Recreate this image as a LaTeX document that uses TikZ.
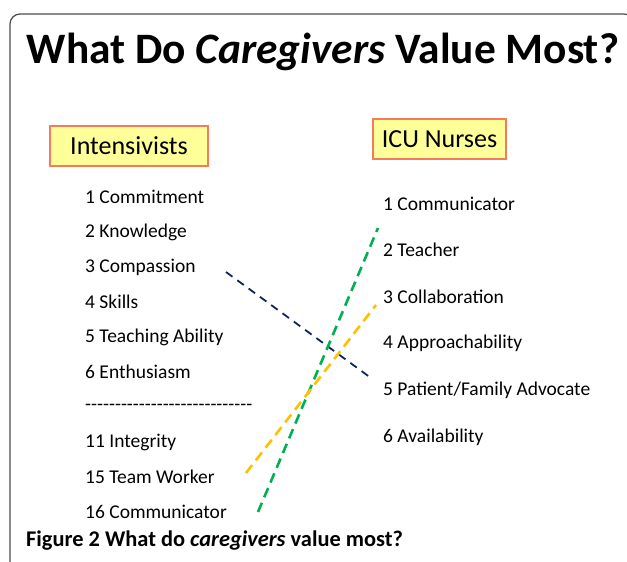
\documentclass[tikz,border=0pt]{standalone}
\usepackage{fontspec}
\setmainfont{Carlito}
\usetikzlibrary{positioning}
\definecolor{boxfill}{HTML}{FFFF99}
\definecolor{boxedge}{HTML}{F47C5C}
\definecolor{navyline}{HTML}{0F2463}
\definecolor{greenline}{HTML}{00B050}
\definecolor{orangeline}{HTML}{FFC000}
\def\dashrow{-{}-{}-{}-{}-{}-{}-{}-{}-{}-{}-{}-{}-{}-{}-{}-{}-{}-{}-{}-{}-{}-{}-{}-{}-{}-{}-{}-}
\begin{document}
\begin{tikzpicture}[x=1pt,y=-1pt,
  head/.style={draw=boxedge,fill=boxfill,line width=1.2pt,inner sep=0pt,
    minimum height=40pt,font=\fontsize{26}{30}\selectfont},
  item/.style={anchor=west,inner sep=0pt,font=\fontsize{19.5}{23}\selectfont},
  link/.style={line width=2.6pt,dash pattern=on 10pt off 6pt}]
\useasboundingbox (0,0) rectangle (627,562);
\begin{scope}
  \clip (0,0) rectangle (627,562);
  \draw[black!70,line width=1.2pt,rounded corners=10pt] (10,590) -- (10,14) -- (634,14) -- (634,590);
\end{scope}
% title
\node[font=\fontsize{43.4}{50}\selectfont\bfseries] (title) at (323,52)
  {What Do \textit{Caregivers} Value Most?};
% column heads
\node[head,minimum width=158pt] (intens) at (129,146) {Intensivists};
\node[head,minimum width=133pt] (nurses) at (439.5,139) {ICU Nurses};
% intensivists list
\node[item] (i1)  at (85,197) {1 Commitment};
\node[item] (i2)  at (85,232) {2 Knowledge};
\node[item] (i3)  at (85,267) {3 Compassion};
\node[item] (i4)  at (85,302) {4 Skills};
\node[item] (i5)  at (85,337) {5 Teaching Ability};
\node[item] (i6)  at (85,372) {6 Enthusiasm};
\node[item] (sep) at (85,407) {\dashrow};
\node[item] (i11) at (85,442) {11 Integrity};
\node[item] (i15) at (85,477) {15 Team Worker};
\node[item] (i16) at (85,512) {16 Communicator};
% nurses list
\node[item] (n1) at (383,204) {1 Communicator};
\node[item] (n2) at (383,250) {2 Teacher};
\node[item] (n3) at (383,297) {3 Collaboration};
\node[item] (n4) at (383,343) {4 Approachability};
\node[item] (n5) at (383,390) {5 Patient/Family Advocate};
\node[item] (n6) at (383,437) {6 Availability};
% link ends
\coordinate (cmpA) at (226,272);
\coordinate (cmpB) at (371,378);
\coordinate (comA) at (258,512);
\coordinate (comB) at (378,228);
\coordinate (teamA) at (246,473);
\coordinate (teamB) at (376,305);
\draw[link,navyline,line width=1.8pt,dash pattern=on 8pt off 6pt] (cmpA) -- (cmpB);
\draw[link,greenline] (comA) -- (comB);
\draw[link,orangeline] (teamA) -- (teamB);
% caption
\node[anchor=west,inner sep=0pt,font=\fontsize{22.4}{26}\selectfont\bfseries] (caption) at (26,541)
  {Figure 2 What do \textit{caregivers} value most?};
\end{tikzpicture}
\end{document}
